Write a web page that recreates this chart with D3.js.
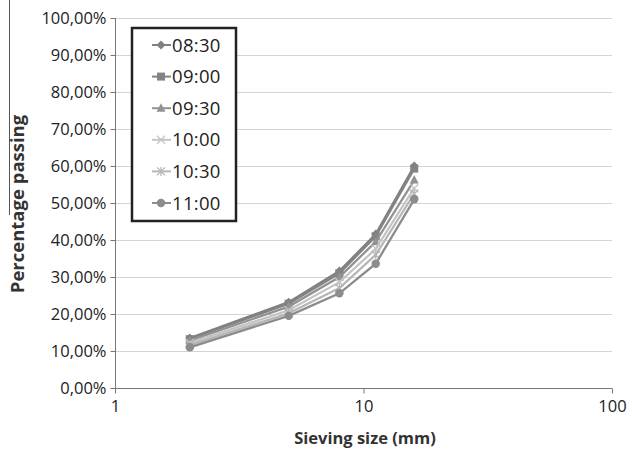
<!DOCTYPE html>
<html><head><meta charset="utf-8">
<script src="https://cdn.jsdelivr.net/npm/d3@7"></script>
<style>body{margin:0;background:#fff}svg{display:block}text{font-family:"Open Sans",Lato,sans-serif}</style>
</head><body>
<script>
const sizes = [2, 5, 8, 11.2, 16];
const seriesNames = ["08:30", "09:00", "09:30", "10:00", "10:30", "11:00"];
const s0830 = [13.5, 23.2, 31.6, 41.6, 60.0];
const s0900 = [13.2, 22.8, 31.0, 41.0, 59.3];
const s0930 = [12.8, 22.0, 30.0, 39.5, 56.2];
const s1000 = [12.2, 21.0, 28.6, 37.6, 54.0];
const s1030 = [11.6, 20.2, 27.0, 36.0, 52.5];
const s1100 = [11.0, 19.5, 25.6, 33.6, 51.0];
const yTicks = [0, 10, 20, 30, 40, 50, 60, 70, 80, 90, 100];
const xTicks = [1, 10, 100];
const values = [s0830, s0900, s0930, s1000, s1030, s1100];
const colors = ["#808080", "#838383", "#929292", "#c4c4c4", "#b6b6b6", "#8c8c8c"];
const markers = ["diamond", "square", "triangle", "x", "asterisk", "circle"];

const W = 632, H = 454;
const svg = d3.select("body").append("svg").attr("width", W).attr("height", H);
const x = d3.scaleLog().domain([1, 100]).range([115, 612]);
const y = d3.scaleLinear().domain([0, 100]).range([388, 18]);

// artifact line at left
svg.append("line").attr("x1", 9.5).attr("x2", 9.5).attr("y1", 0).attr("y2", 215).attr("stroke", "#555").attr("stroke-width", 1);

// gridlines
svg.append("g").selectAll("line").data(yTicks.filter(d => d > 0)).join("line")
  .attr("x1", 115).attr("x2", 612).attr("y1", d => Math.round(y(d)) + 0.5).attr("y2", d => Math.round(y(d)) + 0.5)
  .attr("stroke", "#d4d4d4").attr("stroke-width", 1.2);

// y axis
const ya = svg.append("g").attr("transform", "translate(115.5,0)")
  .call(d3.axisLeft(y).tickValues(yTicks).tickSize(5).tickFormat(d => d3.format(".2f")(d).replace(".", ",") + "%"));
ya.select(".domain").attr("stroke", "#777").attr("d", "M0," + y(100) + "V" + y(0));
ya.selectAll(".tick line").attr("stroke", "#777");
ya.selectAll("text").attr("font-size", 16.5).attr("fill", "#222").attr("x", -9).attr("font-family", "'Open Sans',sans-serif");

// x axis
const xa = svg.append("g").attr("transform", "translate(0,388.5)")
  .call(d3.axisBottom(x).tickValues(xTicks).tickSize(5).tickFormat(d3.format("d")));
xa.select(".domain").attr("stroke", "#777").attr("d", "M" + x(1) + ",0H" + x(100));
xa.selectAll(".tick line").attr("stroke", "#777");
xa.selectAll("text").attr("font-size", 16.5).attr("fill", "#222").attr("y", 12).attr("font-family", "'Open Sans',sans-serif");
xa.selectAll(".tick").filter(d => d === 1).append("line").attr("y1", -5).attr("y2", 0).attr("stroke", "#777");

// titles
svg.append("text").attr("x", 365).attr("y", 444).attr("text-anchor", "middle").attr("font-family", "Lato,sans-serif")
  .attr("font-size", 16.5).attr("font-weight", "bold").attr("fill", "#333").text("Sieving size (mm)");
svg.append("text").attr("transform", "translate(24,204) rotate(-90)").attr("text-anchor", "middle").attr("font-family", "Lato,sans-serif")
  .attr("font-size", 18.5).attr("font-weight", "bold").attr("fill", "#333").text("Percentage passing");

function drawMarker(g, type, cx, cy, color) {
  const s = 4.5;
  if (type === "diamond") g.append("path").attr("d", `M${cx},${cy - s}L${cx + s},${cy}L${cx},${cy + s}L${cx - s},${cy}Z`).attr("fill", color);
  else if (type === "square") g.append("rect").attr("x", cx - 4).attr("y", cy - 4).attr("width", 8).attr("height", 8).attr("fill", color);
  else if (type === "triangle") g.append("path").attr("d", `M${cx},${cy - 5}L${cx + 4.5},${cy + 3.5}L${cx - 4.5},${cy + 3.5}Z`).attr("fill", color);
  else if (type === "x") g.append("path").attr("d", `M${cx - 4},${cy - 4}L${cx + 4},${cy + 4}M${cx - 4},${cy + 4}L${cx + 4},${cy - 4}`).attr("stroke", color).attr("stroke-width", 1.3);
  else if (type === "asterisk") g.append("path").attr("d", `M${cx - 4},${cy - 4}L${cx + 4},${cy + 4}M${cx - 4},${cy + 4}L${cx + 4},${cy - 4}M${cx},${cy - 4.5}V${cy + 4.5}`).attr("stroke", color).attr("stroke-width", 1.3);
  else g.append("circle").attr("cx", cx).attr("cy", cy).attr("r", 4.2).attr("fill", color);
}

const line = d3.line().x((d, i) => x(sizes[i])).y(d => y(d));
values.forEach((vals, k) => {
  const g = svg.append("g");
  g.append("path").attr("d", line(vals)).attr("fill", "none").attr("stroke", colors[k]).attr("stroke-width", 2.3);
  vals.forEach((v, i) => drawMarker(g, markers[k], x(sizes[i]), y(v), colors[k]));
});

// legend
const lg = svg.append("g");
lg.append("rect").attr("x", 132).attr("y", 28).attr("width", 104).attr("height", 193)
  .attr("fill", "#fff").attr("stroke", "#222").attr("stroke-width", 2.5);
seriesNames.forEach((n, k) => {
  const cy = 45 + k * 31.6;
  lg.append("line").attr("x1", 152).attr("x2", 171).attr("y1", cy).attr("y2", cy).attr("stroke", colors[k]).attr("stroke-width", 2);
  drawMarker(lg, markers[k], 161, cy, colors[k]);
  lg.append("text").attr("x", 172).attr("y", cy + 6.5).attr("font-size", 18.5).attr("letter-spacing", 0.3).attr("fill", "#222").text(n);
});
</script>
</body></html>
